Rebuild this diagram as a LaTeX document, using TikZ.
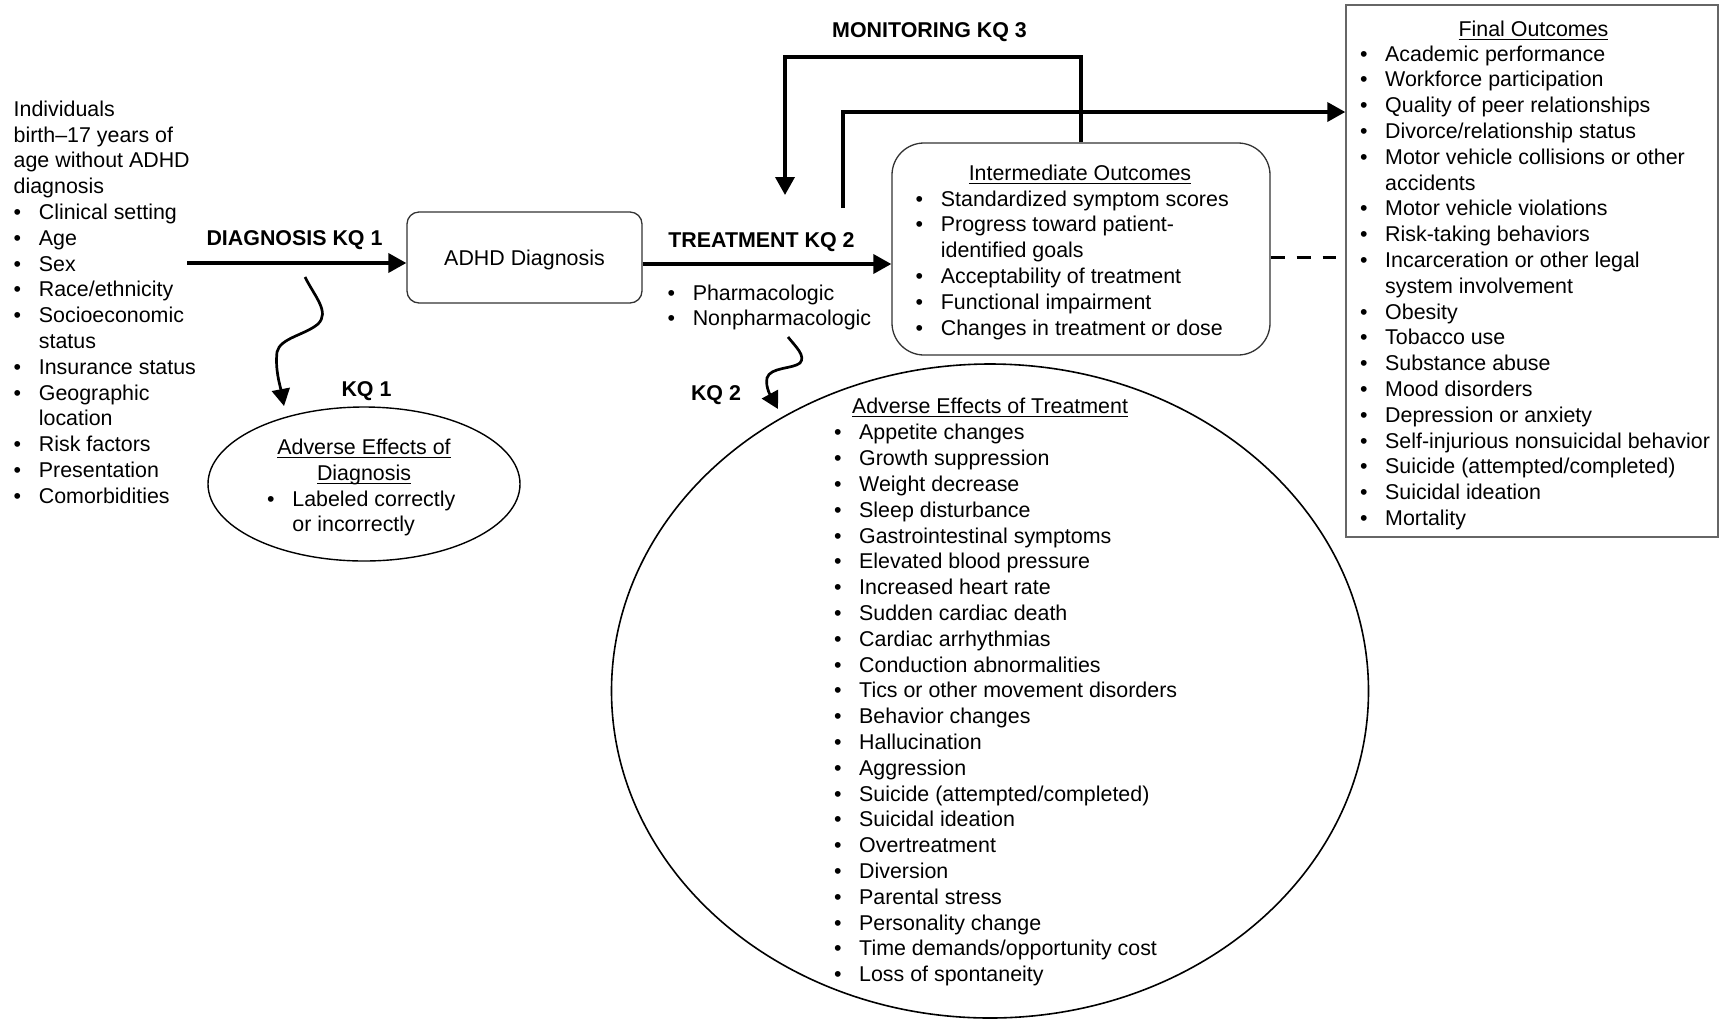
\documentclass[tikz,border=0pt]{standalone}
\usepackage{fontspec}
\setmainfont{Liberation Sans}
\usetikzlibrary{arrows.meta,shapes.geometric}
\newsavebox\ulbox
\newcommand{\ulx}[1]{\sbox\ulbox{#1}\rlap{\rule[-1.7pt]{\wd\ulbox}{0.55pt}}\usebox\ulbox}
\newcommand{\bul}{\makebox[12.6pt][l]{\textbullet}}
\newcommand{\contind}{\hspace*{12.6pt}}
\tikzset{
 txt/.style={inner sep=0pt, anchor=north west, align=left, font=\fontsize{10.7pt}{12.9pt}\selectfont},
 ttl/.style={inner sep=0pt, anchor=base, font=\fontsize{10.7pt}{12.9pt}\selectfont},
 lbl/.style={inner sep=0pt, anchor=base, font=\fontsize{10.7pt}{12.9pt}\selectfont\bfseries},
 box/.style={draw=black!80, line width=0.65pt, inner sep=0pt},
 arr/.style={line width=1.8pt, -{Triangle[length=9pt,width=9.5pt]}},
 wavy/.style={line width=1.35pt, -{Triangle[length=8.5pt,width=9pt]}},
}
\begin{document}
\begin{tikzpicture}[x=0.5pt,y=-0.5pt]
\fill[white] (0,0) rectangle (1719,1019);
\useasboundingbox (0,0) rectangle (1719,1019);

% boxes and ellipses
\node[box, rounded corners=6pt, minimum width=117.5pt, minimum height=45.5pt] (adhd) at (524.5,257.5) {};
\node[ttl] (adhdt) at (524.5,265.5) {ADHD Diagnosis};
\node[box, rounded corners=16pt, minimum width=189pt, minimum height=106pt] (inter) at (1081,249) {};
\node[draw=black!60, line width=0.7pt, inner sep=0pt, minimum width=186pt, minimum height=266pt] (final) at (1532,271) {};
\node[draw, ellipse, line width=0.7pt, inner sep=0pt, minimum width=156pt, minimum height=77pt] (adxd) at (364,484) {};
\node[draw, ellipse, line width=0.8pt, inner sep=0pt, minimum width=378.5pt, minimum height=327pt] (adtx) at (990,691) {};

% population
\node[txt] (pop) at (13.3,97.8) {\strut Individuals\\birth–17 years of\\age without ADHD\\diagnosis\\
\bul Clinical setting\\\bul Age\\\bul Sex\\\bul Race/ethnicity\\\bul Socioeconomic\\\contind status\\
\bul Insurance status\\\bul Geographic\\\contind location\\\bul Risk factors\\\bul Presentation\\\bul Comorbidities};

% labels
\node[lbl] (dkq) at (294.5,245) {DIAGNOSIS KQ 1};
\node[lbl] (kq1) at (366.5,396.5) {KQ 1};
\node[lbl] (tkq) at (761.5,247.7) {TREATMENT KQ 2};
\node[lbl] (kq2) at (716,400.5) {KQ 2};
\node[lbl] (mkq) at (929.5,37.7) {MONITORING KQ 3};

% adverse effects of diagnosis
\node[ttl] (adxd1) at (364,454.5) {\ulx{Adverse Effects of}};
\node[ttl] (adxd2) at (364,480.5) {\ulx{Diagnosis}};
\node[txt] (adxd3) at (266.8,487.7) {\strut\bul Labeled correctly\\\contind or incorrectly};

% treatment
\node[txt] (trt) at (667.2,281.7) {\strut\bul Pharmacologic\\\bul Nonpharmacologic};

% intermediate outcomes
\node[ttl] (intt) at (1080,180.8) {\ulx{Intermediate Outcomes}};
\node[txt] (intl) at (915.3,187.7) {\strut\bul Standardized symptom scores\\\bul Progress toward patient-\\\contind identified goals\\
\bul Acceptability of treatment\\\bul Functional impairment\\\bul Changes in treatment or dose};

% final outcomes
\node[ttl] (fint) at (1533.5,36.3) {\ulx{Final Outcomes}};
\node[txt] (finl) at (1359.6,42.6) {\strut\bul Academic performance\\\bul Workforce participation\\\bul Quality of peer relationships\\
\bul Divorce/relationship status\\\bul Motor vehicle collisions or other\\\contind accidents\\\bul Motor vehicle violations\\
\bul Risk-taking behaviors\\\bul Incarceration or other legal\\\contind system involvement\\\bul Obesity\\\bul Tobacco use\\
\bul Substance abuse\\\bul Mood disorders\\\bul Depression or anxiety\\\bul Self-injurious nonsuicidal behavior\\
\bul Suicide (attempted/completed)\\\bul Suicidal ideation\\\bul Mortality};

% adverse effects of treatment
\node[ttl] (adtt) at (990,413.8) {\ulx{Adverse Effects of Treatment}};
\node[txt] (adtl) at (833.6,421.4) {\strut\bul Appetite changes\\\bul Growth suppression\\\bul Weight decrease\\\bul Sleep disturbance\\
\bul Gastrointestinal symptoms\\\bul Elevated blood pressure\\\bul Increased heart rate\\\bul Sudden cardiac death\\
\bul Cardiac arrhythmias\\\bul Conduction abnormalities\\\bul Tics or other movement disorders\\\bul Behavior changes\\
\bul Hallucination\\\bul Aggression\\\bul Suicide (attempted/completed)\\\bul Suicidal ideation\\\bul Overtreatment\\
\bul Diversion\\\bul Parental stress\\\bul Personality change\\\bul Time demands/opportunity cost\\\bul Loss of spontaneity};

% connectors
\coordinate (dstart) at (187,263);
\draw[arr] (dstart) -- (dstart -| adhd.west);
\coordinate (tline) at (0,264);
\draw[arr] (adhd.east |- tline) -- (inter.west |- tline);
\coordinate (montop) at (785,57);
\coordinate (monend) at (785,195);
\draw[arr] (inter.north) |- (montop) -- (monend);
\coordinate (fstart) at (843,208);
\coordinate (fline) at (0,112);
\draw[arr] (fstart) |- (final.west |- fline);
\coordinate (dashend) at (1336,257);
\draw[line width=1.5pt, dash pattern=on 7pt off 6pt] (inter.east |- dashend) -- (dashend);

\coordinate (w1s) at (305,277);
\coordinate (w1e) at (284,406);
\draw[wavy] (w1s) .. controls (315,297) and (330,312) .. (318,324) .. controls (305,335) and (280,338) .. (277,352) .. controls (275,370) and (280,385) .. (w1e);
\coordinate (w2s) at (788,337);
\coordinate (w2e) at (778,409);
\draw[wavy] (w2s) .. controls (796,347) and (806,356) .. (800,363) .. controls (793,369) and (770,367) .. (767,378) .. controls (765,388) and (772,398) .. (w2e);
\end{tikzpicture}
\end{document}
